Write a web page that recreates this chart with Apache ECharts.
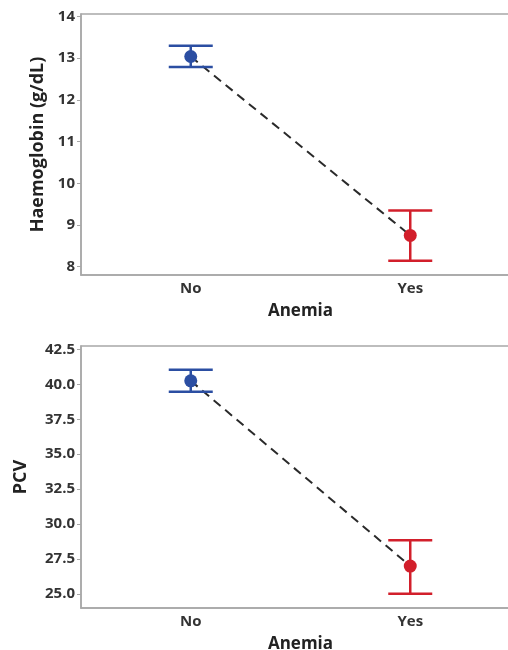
<!DOCTYPE html>
<html>
<head>
<meta charset="utf-8">
<script src="https://cdn.jsdelivr.net/npm/echarts@6/dist/echarts.min.js"></script>
<style>html,body{margin:0;padding:0;background:#fff}#c{width:508px;height:650px}</style>
</head>
<body>
<div id="c"></div>
<script>
const categories = ['No', 'Yes'];
// Haemoglobin (g/dL)
const hbMean = [13.04, 8.75];
const hbLow = [12.79, 8.14];
const hbHigh = [13.30, 9.35];
const hbTicks = [8, 9, 10, 11, 12, 13, 14];
// PCV
const pcvMean = [40.25, 27.0];
const pcvLow = [39.47, 25.02];
const pcvHigh = [41.05, 28.84];
const pcvTicks = [25, 27.5, 30, 32.5, 35, 37.5, 40, 42.5];

const colors = ['#2B4EA2', '#D21F2B'];
const font = '"Open Sans", "Noto Sans", sans-serif';

function errData(lo, hi) { return categories.map((c, i) => [i, lo[i], hi[i]]); }
function renderErr(params, api) {
  const i = api.value(0);
  const lo = api.coord([i, api.value(1)]);
  const hi = api.coord([i, api.value(2)]);
  const hw = 22;
  const col = colors[params.dataIndex];
  const st = { stroke: col, lineWidth: 2.5 };
  return {
    type: 'group',
    children: [
      { type: 'line', shape: { x1: hi[0], y1: hi[1], x2: lo[0], y2: lo[1] }, style: st },
      { type: 'line', shape: { x1: hi[0] - hw, y1: hi[1], x2: hi[0] + hw, y2: hi[1] }, style: st },
      { type: 'line', shape: { x1: lo[0] - hw, y1: lo[1], x2: lo[0] + hw, y2: lo[1] }, style: st }
    ]
  };
}
function xAx(gi) {
  return {
    type: 'category', gridIndex: gi, data: categories,
    name: 'Anemia', nameLocation: 'middle', nameGap: 28,
    nameTextStyle: { fontFamily: font, fontWeight: 700, fontSize: 17, color: '#222' },
    axisLine: { lineStyle: { color: '#a8a8a8', width: 1.5 } },
    axisTick: { alignWithLabel: true, length: 3, lineStyle: { color: '#a8a8a8' } },
    axisLabel: { fontFamily: font, fontWeight: 700, fontSize: 15, color: '#333', margin: 6 }
  };
}
function yAx(gi, name, gap, min, max, ticks, fmt) {
  return {
    type: 'value', gridIndex: gi, min: min, max: max,
    name: name, nameLocation: 'middle', nameGap: gap,
    nameTextStyle: { fontFamily: font, fontWeight: 700, fontSize: 18, color: '#222' },
    axisLine: { show: true, lineStyle: { color: '#a8a8a8', width: 1.5 } },
    axisTick: { show: true, length: 4, customValues: ticks, lineStyle: { color: '#a8a8a8' } },
    axisLabel: { fontFamily: font, fontWeight: 700, fontSize: 15, color: '#333', margin: 6, customValues: ticks, formatter: fmt },
    splitLine: { show: false }
  };
}
function series(gi, mean, lo, hi) {
  return [
    { type: 'line', xAxisIndex: gi, yAxisIndex: gi, data: mean, symbol: 'none', z: 2,
      lineStyle: { color: '#2a2a2a', width: 2, type: [9, 6] }, silent: true },
    { type: 'custom', xAxisIndex: gi, yAxisIndex: gi, data: errData(lo, hi), renderItem: renderErr, z: 3 },
    { type: 'scatter', xAxisIndex: gi, yAxisIndex: gi, symbolSize: 13, z: 4,
      data: mean.map((v, i) => ({ value: [i, v], itemStyle: { color: colors[i], opacity: 1 } })) }
  ];
}
const chart = echarts.init(document.getElementById('c'), null, { renderer: 'canvas' });
chart.setOption({
  animation: false,
  grid: [
    { left: 81, top: 14, width: 439, height: 261, show: true, borderColor: '#a8a8a8', borderWidth: 1.5, outerBoundsMode: 'none' },
    { left: 81, top: 346, width: 439, height: 262, show: true, borderColor: '#a8a8a8', borderWidth: 1.5, outerBoundsMode: 'none' }
  ],
  xAxis: [xAx(0), xAx(1)],
  yAxis: [
    yAx(0, 'Haemoglobin (g/dL)', 30, 7.8, 14.06, hbTicks, v => String(v)),
    yAx(1, 'PCV', 51, 24.0, 42.74, pcvTicks, v => v.toFixed(1))
  ],
  series: [].concat(series(0, hbMean, hbLow, hbHigh), series(1, pcvMean, pcvLow, pcvHigh))
});
</script>
</body>
</html>
